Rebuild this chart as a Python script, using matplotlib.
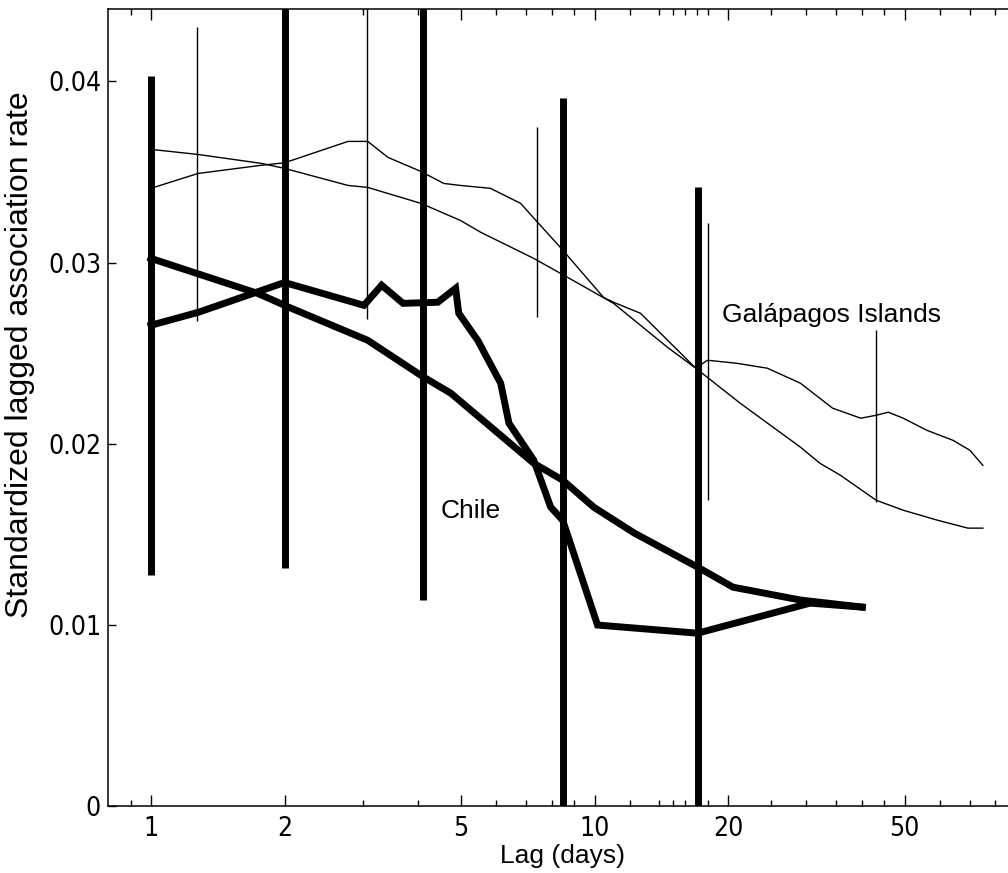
import matplotlib
matplotlib.use('Agg')
import matplotlib.pyplot as plt
from matplotlib import font_manager

# Chile - observed lagged association rate (thick, jagged)
chile_lag = [1.0, 1.28, 2.0, 3.02, 3.31, 3.70, 4.43, 4.86, 4.94, 5.45, 6.14,
             6.41, 7.29, 7.96, 8.47, 10.15, 17.06, 30.6, 40.1]
chile_rate = [0.02654, 0.02726, 0.0289, 0.02764, 0.02875, 0.02775, 0.02781,
              0.02858, 0.0272, 0.02571, 0.02334, 0.02113, 0.01909, 0.0165,
              0.01578, 0.00999, 0.00954, 0.0112, 0.01098]

# Chile - fitted model (thick, smooth)
chile_fit_lag = [1.0, 1.74, 2.07, 3.08, 4.12, 4.74, 7.29, 8.47, 9.95, 12.3,
                 17.06, 20.5, 29.1, 40.1]
chile_fit_rate = [0.03023, 0.0283, 0.02748, 0.02571, 0.02367, 0.02279,
                  0.01892, 0.01799, 0.0165, 0.01506, 0.01319, 0.01208,
                  0.01137, 0.01098]

# Chile - error bars
chile_bar_lag = [1.0, 2.0, 4.1, 8.47, 17.06]
chile_bar_lo = [0.01274, 0.01313, 0.01137, -0.003, -0.003]
chile_bar_hi = [0.0403, 0.047, 0.047, 0.0391, 0.0342]

# Galapagos - observed (thin, bumpy)
gal_lag = [1.0, 1.276, 1.77, 2.0, 2.78, 3.08, 3.42, 4.06, 4.57, 4.98, 5.82,
           6.81, 7.37, 8.37, 10.47, 11.03, 12.69, 16.9, 17.96, 20.92, 24.5,
           29.1, 34.4, 39.8, 43.1, 45.9, 49.6, 56.1, 64.2, 70.1, 75.0]
gal_rate = [0.0341, 0.03492, 0.03537, 0.03551, 0.03669, 0.03669, 0.03581,
            0.03503, 0.03437, 0.03426, 0.0341, 0.03327, 0.03233, 0.03084,
            0.02808, 0.02781, 0.0272, 0.02417, 0.02461, 0.02444, 0.02417,
            0.02334, 0.02196, 0.02141, 0.02157, 0.02174, 0.02141, 0.02074,
            0.02019, 0.01964, 0.01881]

# Galapagos - fitted model (thin, smooth)
gal_fit_lag = [1.0, 1.276, 1.77, 2.0, 2.78, 3.08, 4.06, 4.98, 5.54, 7.29,
               8.37, 11.03, 14.6, 16.9, 21.3, 29.1, 32.2, 35.8, 43.1, 49.6,
               59.2, 69.4, 75.0]
gal_fit_rate = [0.03625, 0.03597, 0.03548, 0.0352, 0.03426, 0.03415, 0.03327,
                0.03233, 0.03167, 0.03023, 0.02941, 0.02775, 0.02532, 0.02417,
                0.02223, 0.01981, 0.01892, 0.01826, 0.01688, 0.01633, 0.01578,
                0.01534, 0.01534]

# Galapagos - error bars
gal_bar_lag = [1.27, 3.07, 7.4, 17.97, 43.1]
gal_bar_lo = [0.0268, 0.0269, 0.0270, 0.0169, 0.0168]
gal_bar_hi = [0.0430, 0.047, 0.0375, 0.0322, 0.0263]

xtick_vals = [1, 2, 5, 10, 20, 50]
xtick_labels = ['1', '2', '5', '10', '20', '50']
xminor_vals = [0.9, 3, 4, 6, 7, 8, 9, 12, 14, 15, 16, 17, 18, 25, 30, 35,
               40, 45, 60, 70, 80]
ytick_vals = [0, 0.01, 0.02, 0.03, 0.04]
ytick_labels = ['0', '0.01', '0.02', '0.03', '0.04']

# fonts: arial-like for text, narrow one for ticks if we have it
names = {f.name for f in font_manager.fontManager.ttflist}
text_font = 'Liberation Sans' if 'Liberation Sans' in names else 'DejaVu Sans'
if 'Liberation Sans Narrow' in names:
    tick_font = dict(family='Liberation Sans Narrow')
else:
    tick_font = dict(family='DejaVu Sans', stretch='condensed')

fig = plt.figure(figsize=(10.08, 8.73), dpi=100)
ax = fig.add_axes([108 / 1008, 67 / 873, 910 / 1008, 797 / 873])

thick = 5.0
thin = 1.0
ax.vlines(chile_bar_lag, chile_bar_lo, chile_bar_hi, colors='k', lw=thick)
ax.vlines(gal_bar_lag, gal_bar_lo, gal_bar_hi, colors='k', lw=thin)
ax.plot(chile_lag, chile_rate, 'k', lw=thick, solid_joinstyle='miter')
ax.plot(chile_fit_lag, chile_fit_rate, 'k', lw=thick)
ax.plot(gal_lag, gal_rate, 'k', lw=thin)
ax.plot(gal_fit_lag, gal_fit_rate, 'k', lw=thin)

ax.set_xscale('log')
ax.set_xlim(0.8, 90)
ax.set_ylim(0, 0.044)

ax.set_xticks(xtick_vals)
ax.set_xticklabels(xtick_labels, fontsize=19, **tick_font)
ax.set_xticks(xminor_vals, minor=True)
ax.set_xticklabels([], minor=True)
ax.set_yticks(ytick_vals)
ax.set_yticklabels(ytick_labels, fontsize=19, **tick_font)

ax.tick_params(axis='x', which='both', direction='in', top=True, width=1)
ax.tick_params(axis='x', which='major', length=8, pad=7)
ax.tick_params(axis='x', which='minor', length=4)
ax.tick_params(axis='y', direction='in', length=6, width=1, pad=5)
for s in ax.spines.values():
    s.set_linewidth(1.1)

ax.set_xlabel('Lag (days)', fontsize=19, family=text_font, labelpad=2)
ax.set_ylabel('Standardized lagged association rate', fontsize=23,
              family=text_font)
ax.yaxis.set_label_coords(-0.080, 0.566)

ax.text(4.5, 0.0159, 'Chile', fontsize=19, family=text_font, va='baseline')
ax.text(19.4, 0.0267, 'Galápagos Islands', fontsize=19, family=text_font,
        va='baseline')

fig.savefig('out.png', dpi=100)
